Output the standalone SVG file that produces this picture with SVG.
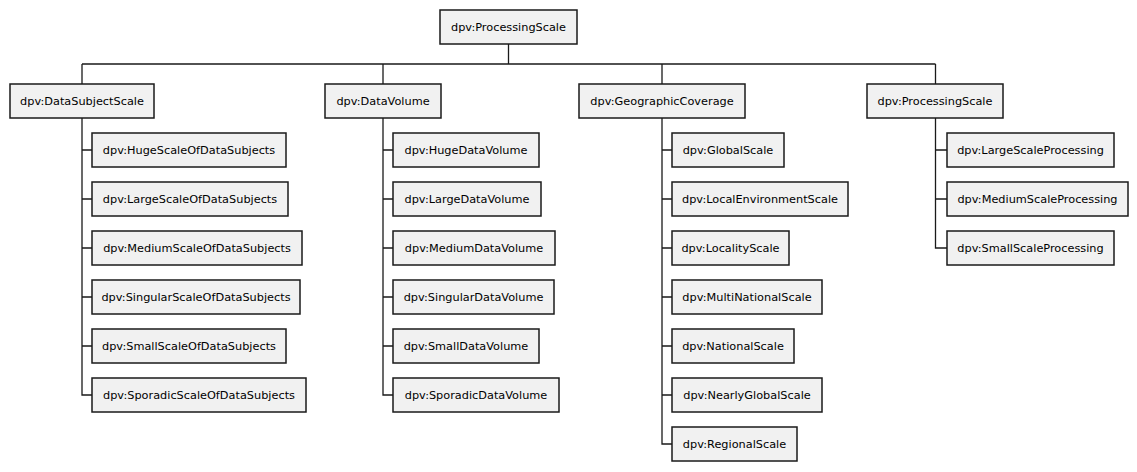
<svg xmlns="http://www.w3.org/2000/svg" width="1137" height="472" viewBox="0 0 1137 472">
<style>
.n rect{fill:#f1f1f1;stroke:#1a1a1a;stroke-width:1.5}
.n text{font-family:"DejaVu Sans",Verdana,sans-serif;font-size:11.3px;fill:#000;text-anchor:middle}
#connectors path{fill:none;stroke:#1a1a1a;stroke-width:1.3}
</style>
<rect width="1137" height="472" fill="#fff"/>
<g id="connectors">
<path d="M508.5,44V64M82,64H935.5M82,64V84M383,64V84M662,64V84M935.5,64V84"/>
<path d="M82,118V395H92M82,150H92M82,199H92M82,248H92M82,297H92M82,346H92"/>
<path d="M383,118V395H393M383,150H393M383,199H393M383,248H393M383,297H393M383,346H393"/>
<path d="M662,118V444H672M662,150H672M662,199H672M662,248H672M662,297H672M662,346H672M662,395H672"/>
<path d="M935.5,118V248H947M935.5,150H947M935.5,199H947"/>
</g>
<g id="root" class="n"><rect x="440" y="10" width="137" height="34"/><text x="508.5" y="31">dpv:ProcessingScale</text></g>
<g id="dss" class="n"><rect x="10" y="84" width="144" height="34"/><text x="82" y="105">dpv:DataSubjectScale</text></g>
<g id="dv" class="n"><rect x="325" y="84" width="116" height="34"/><text x="383" y="105">dpv:DataVolume</text></g>
<g id="gc" class="n"><rect x="579" y="84" width="166" height="34"/><text x="662" y="105">dpv:GeographicCoverage</text></g>
<g id="ps" class="n"><rect x="867" y="84" width="136" height="34"/><text x="935" y="105">dpv:ProcessingScale</text></g>

<g id="dss1" class="n"><rect x="92" y="133" width="194" height="34"/><text x="189" y="154">dpv:HugeScaleOfDataSubjects</text></g>
<g id="dss2" class="n"><rect x="92" y="182" width="196" height="34"/><text x="190" y="203">dpv:LargeScaleOfDataSubjects</text></g>
<g id="dss3" class="n"><rect x="92" y="231" width="210" height="34"/><text x="197" y="252">dpv:MediumScaleOfDataSubjects</text></g>
<g id="dss4" class="n"><rect x="92" y="280" width="208" height="34"/><text x="196" y="301">dpv:SingularScaleOfDataSubjects</text></g>
<g id="dss5" class="n"><rect x="92" y="329" width="194" height="34"/><text x="189" y="350">dpv:SmallScaleOfDataSubjects</text></g>
<g id="dss6" class="n"><rect x="92" y="378" width="214" height="34"/><text x="199" y="399">dpv:SporadicScaleOfDataSubjects</text></g>

<g id="dv1" class="n"><rect x="393" y="133" width="146" height="34"/><text x="466" y="154">dpv:HugeDataVolume</text></g>
<g id="dv2" class="n"><rect x="393" y="182" width="148" height="34"/><text x="467" y="203">dpv:LargeDataVolume</text></g>
<g id="dv3" class="n"><rect x="393" y="231" width="162" height="34"/><text x="474" y="252">dpv:MediumDataVolume</text></g>
<g id="dv4" class="n"><rect x="393" y="280" width="161" height="34"/><text x="473.5" y="301">dpv:SingularDataVolume</text></g>
<g id="dv5" class="n"><rect x="393" y="329" width="146" height="34"/><text x="466" y="350">dpv:SmallDataVolume</text></g>
<g id="dv6" class="n"><rect x="393" y="378" width="166" height="34"/><text x="476" y="399">dpv:SporadicDataVolume</text></g>

<g id="gc1" class="n"><rect x="672" y="133" width="112" height="34"/><text x="728" y="154">dpv:GlobalScale</text></g>
<g id="gc2" class="n"><rect x="672" y="182" width="176" height="34"/><text x="760" y="203">dpv:LocalEnvironmentScale</text></g>
<g id="gc3" class="n"><rect x="672" y="231" width="117" height="34"/><text x="730.5" y="252">dpv:LocalityScale</text></g>
<g id="gc4" class="n"><rect x="672" y="280" width="150" height="34"/><text x="747" y="301">dpv:MultiNationalScale</text></g>
<g id="gc5" class="n"><rect x="672" y="329" width="122" height="34"/><text x="733" y="350">dpv:NationalScale</text></g>
<g id="gc6" class="n"><rect x="672" y="378" width="150" height="34"/><text x="747" y="399">dpv:NearlyGlobalScale</text></g>
<g id="gc7" class="n"><rect x="672" y="427" width="125" height="34"/><text x="734.5" y="448">dpv:RegionalScale</text></g>

<g id="ps1" class="n"><rect x="947" y="133" width="167" height="34"/><text x="1030.5" y="154">dpv:LargeScaleProcessing</text></g>
<g id="ps2" class="n"><rect x="947" y="182" width="181" height="34"/><text x="1037.5" y="203">dpv:MediumScaleProcessing</text></g>
<g id="ps3" class="n"><rect x="947" y="231" width="167" height="34"/><text x="1030.5" y="252">dpv:SmallScaleProcessing</text></g>
</svg>
